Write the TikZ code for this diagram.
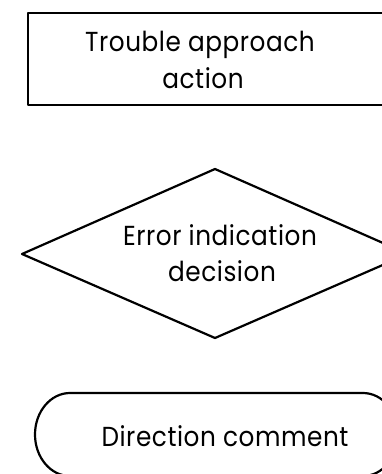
\documentclass[tikz,border=0pt]{standalone}
\usepackage{fontspec}
\setmainfont{Poppins}[FakeStretch=0.9, LetterSpace=2]
\tikzset{
  shapeline/.style={draw=black, line width=2.2pt, line join=round},
  label/.style={font=\fontsize{27.5}{37}\selectfont, align=center, inner sep=0pt, anchor=base},
}
\begin{document}
\begin{tikzpicture}[x=1pt,y=-1pt]
\useasboundingbox (0,0) rectangle (382,474);
% rectangle (action)
\draw[shapeline] (28,13) rectangle (392,105);
\node[label] (t1a) at (200,51) {Trouble approach};
\node[label] (t1b) at (203,88) {action};
% diamond (decision)
\coordinate (dt) at (215,169);
\coordinate (dr) at (408,254);
\coordinate (db) at (215,338);
\coordinate (dl) at (22,254);
\draw[shapeline] (dt) -- (dr) -- (db) -- (dl) -- cycle;
\node[label] (t2a) at (220,245) {Error indication};
\node[label] (t2b) at (222,281) {decision};
% terminal (comment)
\draw[shapeline] (70,393) -- (363,393)
  arc[start angle=-90, end angle=90, x radius=35, y radius=41.5]
  -- (70,476)
  arc[start angle=90, end angle=270, x radius=35, y radius=41.5] -- cycle;
\node[label] (t3) at (225,446) {Direction comment};
\end{tikzpicture}
\end{document}
